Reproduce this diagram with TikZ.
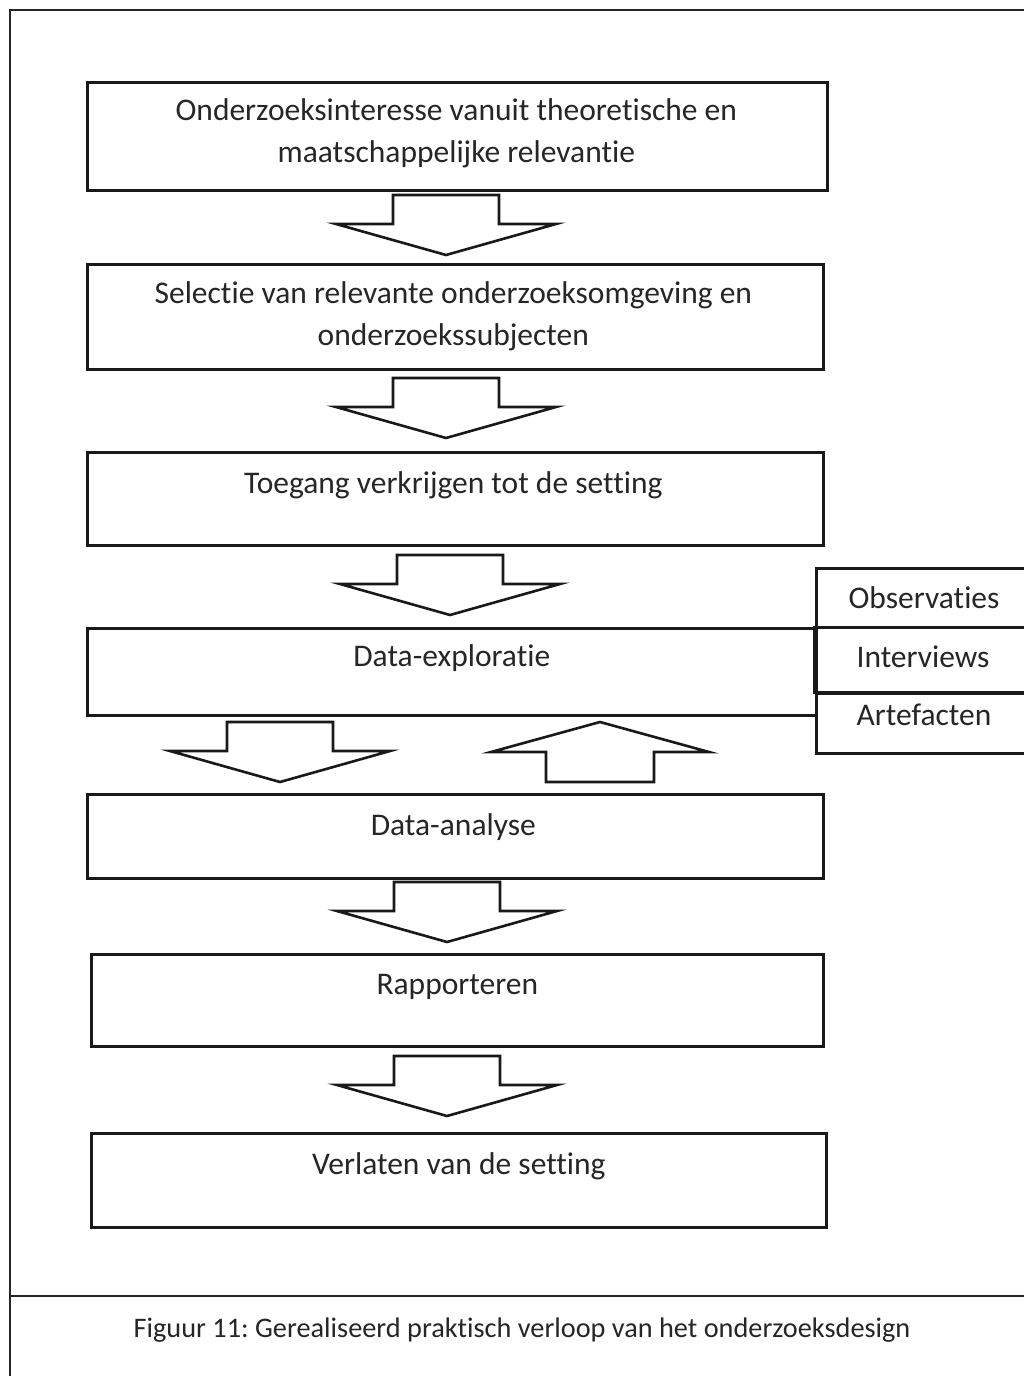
\documentclass[tikz,border=0pt]{standalone}
\usepackage{fontspec}
\setmainfont{Carlito}[Ligatures=NoCommon]
\frenchspacing
\begin{document}
\begin{tikzpicture}[x=1pt,y=-1pt,
  frame/.style={line width=2pt,black!85},
  box/.style={draw,line width=2.6pt,black!90,rectangle,inner sep=0pt,anchor=north west},
  lbl/.style={anchor=base,align=center,inner sep=0pt,font=\fontsize{31.5}{42}\selectfont,text=black!85},
  side/.style={anchor=base,inner sep=0pt,font=\fontsize{31.5}{35}\selectfont,text=black!85},
  captext/.style={anchor=base,inner sep=0pt,font=\fontsize{28.3}{32}\selectfont,text=black!85},
  blk/.style={draw,line width=2.6pt,black!90,fill=white,line join=miter},
  pics/blockdown/.style={code={
    \draw[blk] (-53,-60) -- (53,-60) -- (53,-31) -- (110,-31) -- (0,0)
      -- (-110,-31) -- (-53,-31) -- cycle;}},
  pics/blockup/.style={code={
    \draw[blk] (-54,60) -- (54,60) -- (54,30) -- (109,30) -- (0,0)
      -- (-109,30) -- (-54,30) -- cycle;}}
]
\useasboundingbox (0,0) rectangle (1024,1376);
\fill[white] (0,0) rectangle (1024,1376);

% outer frame, open on the right, and caption rule
\draw[frame] (10,1380) -- (10,10) -- (1030,10);
\draw[frame] (10,1296) -- (1030,1296);

% process boxes
\node[box,minimum width=740,minimum height=108] (b1) at (86,81) {};
\node[box,minimum width=736,minimum height=105] (b2) at (86,263) {};
\node[box,minimum width=736,minimum height=93]  (b3) at (86,451) {};
\node[box,minimum width=729,minimum height=87]  (b4) at (86,627) {};
\node[box,minimum width=736,minimum height=84]  (b5) at (86,793) {};
\node[box,minimum width=732,minimum height=92]  (b6) at (90,953) {};
\node[box,minimum width=735,minimum height=94]  (b7) at (90,1132) {};

% labels (base anchor sits on the last line)
\path (b1.north) ++(-1,81) node[lbl] (t1) {Onderzoeksinteresse vanuit theoretische en\\maatschappelijke relevantie};
\path (b2.north) ++(-2,82) node[lbl] (t2) {Selectie van relevante onderzoeksomgeving en\\onderzoekssubjecten};
\path (b3.north) ++(-2,42) node[lbl] (t3) {Toegang verkrijgen tot de setting};
\path (b4.north) ++(0,39) node[lbl] (t4) {Data-exploratie};
\path (b5.north) ++(-2,42) node[lbl] (t5) {Data-analyse};
\path (b6.north) ++(0,41) node[lbl] (t6) {Rapporteren};
\path (b7.north) ++(0,42) node[lbl] (t7) {Verlaten van de setting};

% data sources beside the exploration step
\node[box,minimum width=220,minimum height=59] (s1) at (815,567) {};
\node[box,minimum width=222,minimum height=65] (s2) at (813,626) {};
\node[box,minimum width=220,minimum height=60] (s3) at (815,692) {};
\path (s1.north west) ++(109,41) node[side] {Observaties};
\path (s2.north west) ++(110,41) node[side] {Interviews};
\path (s3.north west) ++(109,33) node[side] {Artefacten};

% block arrows between the steps
\pic at (446,255) {blockdown};
\pic at (446,438) {blockdown};
\pic at (450,615) {blockdown};
\pic at (280,782) {blockdown};
\pic at (600,722) {blockup};
\pic at (447,942) {blockdown};
\pic at (447,1116) {blockdown};

% caption
\node[captext] (caption) at (522,1337) {Figuur 11: Gerealiseerd praktisch verloop van het onderzoeksdesign};
\end{tikzpicture}
\end{document}
